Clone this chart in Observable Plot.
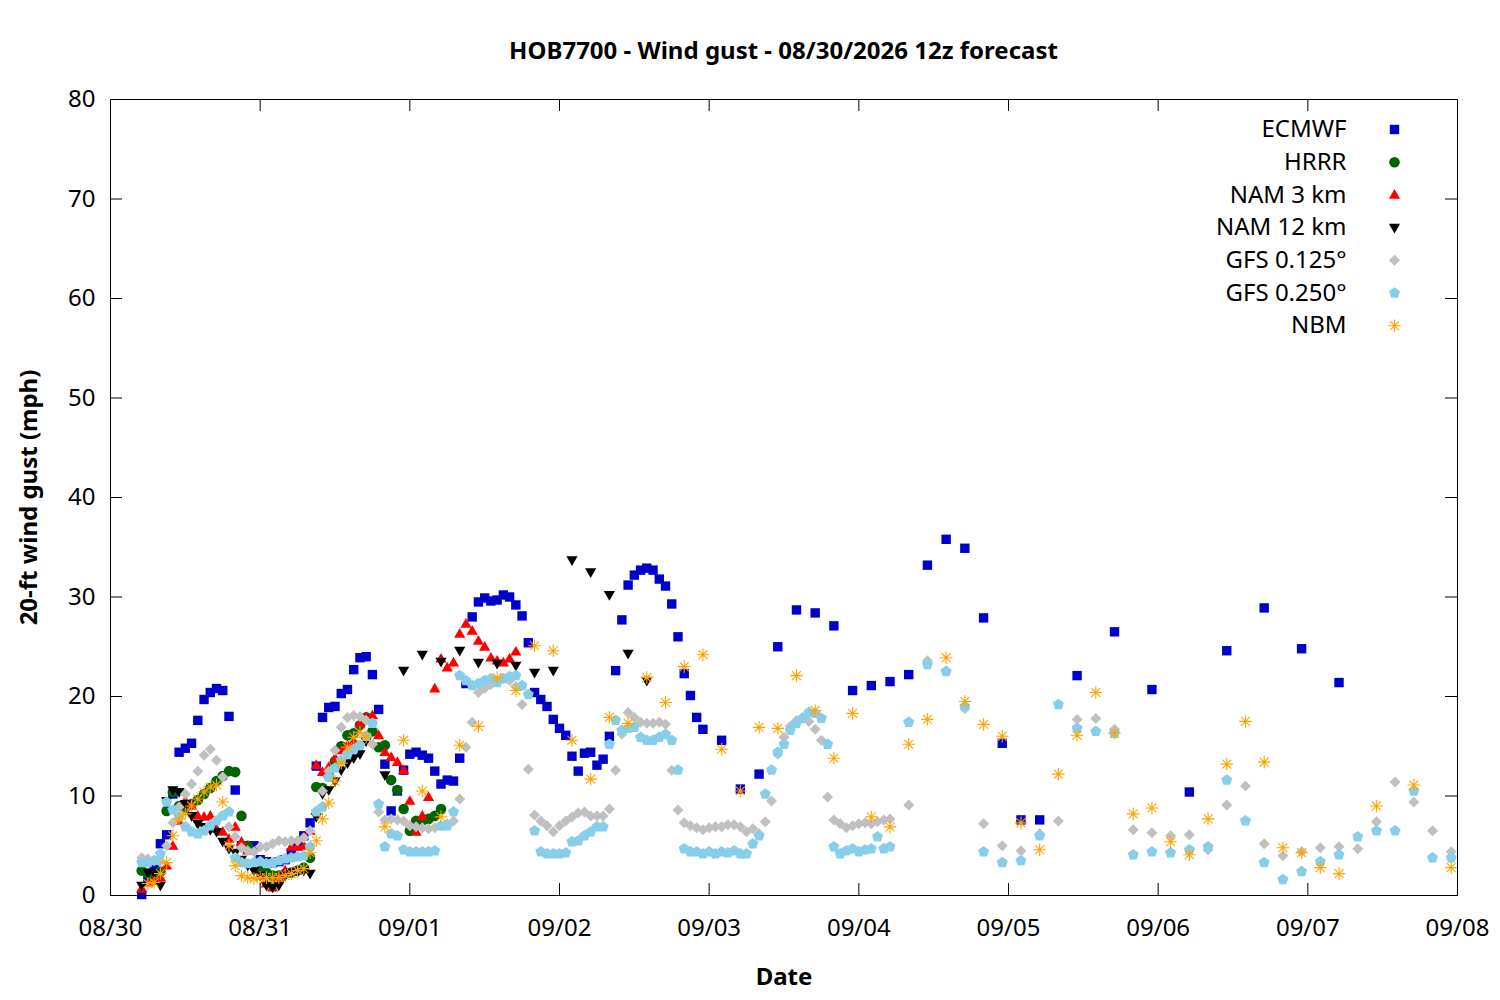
<!DOCTYPE html>
<html><head><meta charset="utf-8">
<script src="https://cdn.jsdelivr.net/npm/d3@7"></script>
<script src="https://cdn.jsdelivr.net/npm/@observablehq/plot@0.6"></script>
<style>
body{margin:0;background:#fff;font-family:"Noto Sans",sans-serif;}
#title{height:75px;box-sizing:border-box;padding-top:35px;padding-left:67px;width:1500px;text-align:center;font-weight:bold;font-size:24px;line-height:30px;color:#000;}
#chart svg{display:block;}
</style></head><body>
<div id="title">HOB7700 - Wind gust - 08/30/2026 12z forecast</div>
<div id="chart"></div>
<script>
// ---------- data ----------
const runLocalStartHour = 5;          // 12z run expressed in local hours of 08/30
const seriesNames = ["ECMWF","HRRR","NAM 3 km","NAM 12 km","GFS 0.125°","GFS 0.250°","NBM"];
const yTicks = [0,10,20,30,40,50,60,70,80];

function leadSchedule(...segs){const out=[];for(const [a,b,s] of segs)for(let h=a;h<=b;h+=s)out.push(h);return out;}

const ecmwfLeads = leadSchedule([0,90,1],[93,144,3],[150,192,6]);
const ecmwfValues = [
 0.1,1.5,3.0,5.2,6.1,10.2,14.4,14.8,15.3,17.6,
 19.7,20.4,20.8,20.6,18.0,10.6,5.0,4.7,5.0,3.6,
 3.4,3.3,3.4,3.6,4.3,5.0,6.0,7.3,13.0,17.9,
 18.9,19.0,20.3,20.7,22.7,23.9,24.0,22.2,18.7,13.2,
 8.5,10.5,12.6,14.2,14.4,14.1,13.8,12.5,11.2,11.6,
 11.5,13.8,21.3,28.0,29.5,29.9,29.6,29.7,30.2,30.0,
 29.2,28.1,25.4,20.4,19.7,19.0,17.7,16.8,16.1,14.0,
 12.5,14.3,14.4,13.1,13.7,16.0,22.6,27.7,31.2,32.2,
 32.7,32.9,32.7,31.8,31.1,29.3,26.0,22.3,20.1,17.9,
 16.7,
 15.6,10.7,12.2,25.0,28.7,28.4,27.1,20.6,21.1,21.5,22.2,33.2,35.8,34.9,27.9,15.3,7.6,7.6,
 22.1,26.5,20.7,10.4,24.6,28.9,24.8,21.4];

const hrrrLeads = leadSchedule([0,48,1]);
const hrrrValues = [
 2.5,2.2,1.9,2.4,8.5,10.4,9.0,8.8,9.2,9.6,
 10.2,10.8,11.5,12.0,12.5,12.4,8.0,5.0,3.0,2.5,
 2.3,2.0,2.0,2.2,2.3,2.5,2.8,3.8,10.9,10.8,
 12.0,13.5,15.0,16.1,16.3,17.1,17.9,16.5,14.9,15.1,
 11.6,10.6,8.7,6.5,7.5,7.5,7.7,8.0,8.7];

const nam3Leads = leadSchedule([0,60,1]);
const nam3Values = [
 0.7,1.3,1.5,1.8,3.0,5.0,7.5,9.5,9.0,8.0,
 7.9,8.0,6.7,6.4,5.7,6.9,5.4,4.5,3.2,2.0,
 1.2,0.8,1.8,2.5,4.9,4.9,5.0,6.5,13.1,12.4,
 12.9,13.8,14.6,15.1,15.5,17.3,17.9,18.1,16.1,14.4,
 13.9,13.4,12.6,9.5,6.4,8.0,9.9,20.8,23.8,22.9,
 23.4,26.3,27.3,26.6,25.6,25.0,23.9,23.6,23.4,23.8,
 24.5];

const nam12Leads = leadSchedule([0,36,1],[39,81,3]);
const nam12Values = [
 1.0,2.3,2.3,1.0,9.5,10.6,10.4,9.2,8.0,7.2,
 6.9,6.6,6.4,5.4,4.7,4.3,3.6,3.0,2.5,2.0,
 1.0,0.8,1.0,2.0,2.3,2.4,2.5,2.2,7.9,10.2,
 10.6,11.5,12.6,13.3,13.8,14.2,15.5,
 12.1,22.6,24.2,23.5,24.6,23.4,23.3,23.1,22.4,22.6,33.7,32.5,30.2,24.3,21.6];

const gfsLeads = leadSchedule([0,120,1],[123,210,3]);
const gfs125Values = [
 3.8,3.7,3.5,3.4,5.0,7.3,8.9,10.2,11.2,12.5,
 14.1,14.7,13.6,11.9,6.9,5.9,4.8,4.5,4.4,4.9,
 4.9,5.2,5.5,5.4,5.5,5.5,5.8,6.5,8.5,10.5,
 12.5,14.6,16.9,17.9,18.1,18.0,17.6,15.2,8.4,7.6,
 7.7,7.6,7.5,7.0,6.9,6.8,6.7,6.8,7.0,7.2,
 7.5,9.7,14.9,17.4,20.4,20.8,21.2,21.5,21.8,21.6,
 21.0,19.2,12.7,8.1,7.5,7.0,6.4,7.0,7.5,7.9,
 8.3,8.4,8.0,8.0,8.0,8.7,12.6,16.2,18.4,17.9,
 17.4,17.3,17.3,17.4,17.2,12.6,8.6,7.3,7.0,6.8,
 6.6,6.8,6.9,6.9,7.1,7.1,6.9,6.4,6.7,6.2,
 7.4,9.5,14.2,15.9,17.0,17.6,17.9,17.5,16.7,15.6,
 9.9,7.6,7.2,6.8,7.0,7.2,7.3,7.2,7.4,7.6,
 7.7,
 9.1,23.6,22.6,18.8,7.2,5.0,4.5,6.2,7.5,17.7,
 17.8,16.7,6.6,6.3,6.0,6.1,4.6,9.1,11.0,5.2,
 4.0,4.4,4.8,4.9,4.7,7.4,11.4,9.4,6.5,4.4];
const gfs250Values = [
 3.3,3.3,3.5,4.2,9.4,8.6,7.9,6.9,6.4,6.2,
 6.5,7.0,7.5,8.0,8.4,3.8,3.3,3.2,3.3,3.4,
 3.2,3.3,3.5,3.7,3.8,3.9,4.0,4.9,8.4,8.9,
 11.9,12.8,13.6,14.2,14.7,15.1,16.0,17.3,9.2,4.9,
 6.2,6.0,4.6,4.4,4.4,4.4,4.4,4.5,7.0,7.0,
 8.4,22.1,21.6,21.1,21.3,21.6,21.8,21.4,21.8,22.0,
 22.1,21.1,20.2,6.5,4.4,4.2,4.2,4.2,4.3,5.4,
 5.5,6.0,6.4,6.9,6.9,15.2,17.6,16.6,16.8,16.9,
 15.9,15.6,15.6,15.9,16.2,15.6,12.6,4.7,4.4,4.4,
 4.2,4.4,4.2,4.4,4.3,4.5,4.2,4.2,5.2,6.0,
 10.2,12.6,14.4,15.2,16.6,17.3,17.8,18.4,18.3,17.8,
 15.2,4.9,4.2,4.5,4.7,4.4,4.6,4.7,5.9,4.7,
 4.9,
 17.4,23.2,22.5,19.0,4.4,3.3,3.5,6.0,19.2,16.8,
 16.5,16.3,4.1,4.4,4.3,4.6,4.9,11.6,7.5,3.3,
 1.6,2.4,3.4,4.1,5.9,6.5,6.5,10.5,3.8,3.8];

const nbmLeads = leadSchedule([1,36,1],[39,192,3],[198,210,6]);
const nbmValues = [
 1.2,1.3,2.2,3.3,6.0,7.7,8.2,9.0,9.7,10.4,
 10.9,11.1,9.4,5.0,3.0,2.0,1.8,1.7,1.8,1.8,
 1.8,1.8,2.0,2.2,2.5,2.7,4.3,5.5,7.7,9.3,
 11.5,13.3,14.9,15.9,16.4,15.9,
 6.9,15.6,10.5,7.9,15.1,17.0,21.9,20.6,25.1,24.6,
 15.6,11.7,17.9,17.3,21.9,19.4,23.0,24.2,14.7,10.5,
 16.9,16.8,22.1,18.6,13.8,18.3,7.9,6.9,15.2,17.7,
 23.9,19.5,17.2,16.0,7.3,4.6,12.2,16.1,20.4,16.3,
 8.2,8.8,5.4,4.1,7.7,13.2,17.5,13.4,4.8,4.3,
 2.8,2.2,
 9.0,11.1,2.8];

// ---------- build ----------
const dayStart = Date.UTC(2026,7,30), dayEnd = Date.UTC(2026,8,8);
const days = d3.utcDay.range(new Date(dayStart), new Date(dayEnd + 1));
function rows(leads, values){
  if (leads.length !== values.length) console.warn("length mismatch", leads.length, values.length);
  return leads.map((L,i)=>({time:new Date(dayStart + (runLocalStartHour+L)*3600e3), value:values[i]}));
}
const datasets = [
  rows(ecmwfLeads, ecmwfValues), rows(hrrrLeads, hrrrValues), rows(nam3Leads, nam3Values),
  rows(nam12Leads, nam12Values), rows(gfsLeads, gfs125Values), rows(gfsLeads, gfs250Values),
  rows(nbmLeads, nbmValues)];

// ---------- symbols ----------
function sym(fn){return {draw(c,size){fn(c,Math.sqrt(size/Math.PI)/5);}};}
const squareSym = sym((c,k)=>{const s=4.7*k;c.rect(-s,-s,2*s,2*s);});
const circleSym = sym((c,k)=>{const r=5.3*k;c.moveTo(r,0);c.arc(0,0,r,0,2*Math.PI);c.closePath();});
const triUpSym = sym((c,k)=>{c.moveTo(0,-5.8*k);c.lineTo(5.6*k,3.9*k);c.lineTo(-5.6*k,3.9*k);c.closePath();});
const triDownSym = sym((c,k)=>{c.moveTo(0,5.8*k);c.lineTo(5.6*k,-3.9*k);c.lineTo(-5.6*k,-3.9*k);c.closePath();});
const diamondSym = sym((c,k)=>{const s=5.5*k;c.moveTo(0,-s);c.lineTo(s,0);c.lineTo(0,s);c.lineTo(-s,0);c.closePath();});
const pentaSym = sym((c,k)=>{const R=5.8*k;for(let i=0;i<5;i++){const a=-Math.PI/2+i*2*Math.PI/5;const px=R*Math.cos(a),py=R*Math.sin(a);i?c.lineTo(px,py):c.moveTo(px,py);}c.closePath();});
const starSym = sym((c,k)=>{const R=6.3*k;for(let i=0;i<4;i++){const a=i*Math.PI/4;c.moveTo(-R*Math.cos(a),-R*Math.sin(a));c.lineTo(R*Math.cos(a),R*Math.sin(a));}});

const styles = [
  {symbol:squareSym, fill:"#0000cd", stroke:"none"},
  {symbol:circleSym, fill:"#006400", stroke:"none"},
  {symbol:triUpSym, fill:"#ff0000", stroke:"none"},
  {symbol:triDownSym, fill:"#000000", stroke:"none"},
  {symbol:diamondSym, fill:"#c0c0c0", stroke:"none"},
  {symbol:pentaSym, fill:"#87ceeb", stroke:"none"},
  {symbol:starSym, fill:"none", stroke:"#ffa500", strokeWidth:1.1}
];

const W = 1500, H = 925, mT = 24, mB = 105, mL = 110, mR = 43;
const innerH = H - mT - mB, innerW = W - mL - mR, tickLen = 12;
const fontSize = 24;

const marks = [];
datasets.forEach((data,i)=>{
  marks.push(Plot.dot(data, {x:"time", y:"value", r:5, ...styles[i]}));
});
// inward ticks (all four sides)
marks.push(Plot.tickX(days, {x:d=>d, insetTop:innerH - tickLen, stroke:"black"}));
marks.push(Plot.tickX(days, {x:d=>d, insetBottom:innerH - tickLen, stroke:"black"}));
marks.push(Plot.tickY(yTicks, {y:d=>d, insetRight:innerW - tickLen, stroke:"black"}));
marks.push(Plot.tickY(yTicks, {y:d=>d, insetLeft:innerW - tickLen, stroke:"black"}));
marks.push(Plot.frame({stroke:"black", strokeWidth:1}));
marks.push(Plot.axisX(days, {tickSize:0, tickPadding:23, tickFormat:d3.utcFormat("%m/%d"), fontSize, label:null}));
marks.push(Plot.axisY(yTicks, {tickSize:0, tickPadding:15, fontSize, label:null}));
marks.push(Plot.text(["Date"], {frameAnchor:"bottom", dy:82, fontSize, fontWeight:"bold", lineAnchor:"middle"}));
marks.push(Plot.text(["20-ft wind gust (mph)"], {frameAnchor:"left", dx:-81, rotate:-90, textAnchor:"middle", fontSize, fontWeight:"bold", lineAnchor:"middle"}));
// legend
seriesNames.forEach((name,i)=>{
  const dy = 30 + i*32.7;
  marks.push(Plot.text([name], {frameAnchor:"top-right", dx:-111, dy, textAnchor:"end", lineAnchor:"middle", fontSize}));
  marks.push(Plot.dot([name], {frameAnchor:"top-right", dx:-63, dy, r:5, ...styles[i]}));
});

const chart = Plot.plot({
  width:W, height:H, marginTop:mT, marginBottom:mB, marginLeft:mL, marginRight:mR,
  x:{type:"utc", domain:[new Date(dayStart), new Date(dayEnd)]},
  y:{domain:[0,80]},
  style:{fontFamily:"'Noto Sans', sans-serif", background:"white", color:"black", overflow:"visible"},
  marks
});
document.getElementById("chart").appendChild(chart);
</script></body></html>
